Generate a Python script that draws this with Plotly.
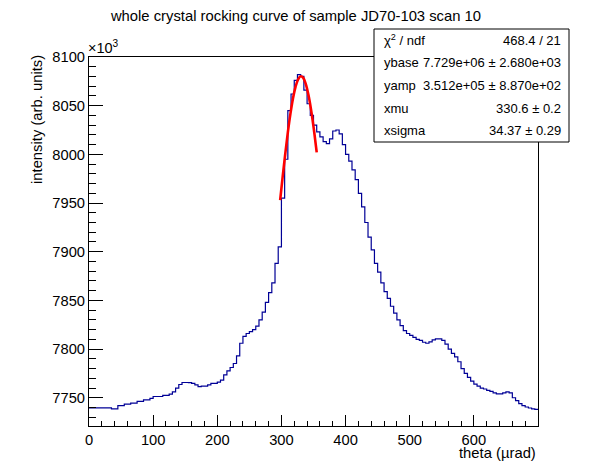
import plotly.graph_objects as go

# histogram: 5 urad bins from 0 to 700, intensity in units of 10^3
bin_width = 5
bin_edges = [i * bin_width for i in range(141)]
intensity = [
    7739.7, 7739.7, 7739.7, 7739.7, 7739.7, 7739.7, 7739.7, 7738.6, 7738.6, 7742.0,
    7742.0, 7743.4, 7743.4, 7744.5, 7744.5, 7746.2, 7746.2, 7747.9, 7747.9, 7749.3,
    7751.3, 7751.3, 7751.3, 7752.4, 7752.4, 7753.7, 7756.0, 7760.0, 7763.6, 7765.7,
    7765.7, 7765.5, 7764.7, 7763.2, 7761.5, 7761.9, 7761.9, 7763.2, 7764.7, 7764.7,
    7766.0, 7768.1, 7773.5, 7777.6, 7781.1, 7785.2, 7793.0, 7806.0, 7813.0, 7816.0,
    7818.0, 7820.0, 7823.5, 7830.0, 7838.0, 7848.0, 7858.0, 7868.0, 7888.0, 7905.0,
    7955.0, 7995.0, 8045.0, 8062.0, 8076.0, 8082.0, 8080.0, 8066.0, 8052.0, 8040.0,
    8030.0, 8023.0, 8018.0, 8013.0, 8011.0, 8016.0, 8024.0, 8025.0, 8021.0, 8010.0,
    8000.0, 7993.0, 7984.0, 7974.0, 7960.0, 7946.0, 7930.0, 7915.0, 7902.0, 7888.0,
    7879.0, 7868.0, 7859.0, 7852.0, 7844.0, 7837.0, 7830.0, 7824.0, 7819.0, 7816.0,
    7814.0, 7812.0, 7810.0, 7809.0, 7807.0, 7806.0, 7807.5, 7809.5, 7810.5, 7810.5,
    7809.0, 7805.0, 7800.0, 7795.5, 7792.0, 7787.0, 7780.0, 7775.0, 7771.0, 7767.0,
    7764.0, 7762.0, 7760.0, 7759.0, 7757.5, 7756.5, 7755.0, 7754.0, 7754.0, 7755.0,
    7756.0, 7755.0, 7750.0, 7747.0, 7744.0, 7742.0, 7740.5, 7739.5, 7738.5, 7738.0,
]

# red fit curve
fit_theta = [298, 302, 306, 310, 314, 318, 322, 326, 330, 334, 338, 342, 346, 350, 354, 355]
fit_intensity = [7953.0, 7977.4, 8000.8, 8022.5, 8041.6, 8057.4, 8069.4, 8077.0, 8080.2,
                 8078.5, 8072.2, 8061.4, 8046.7, 8028.5, 8007.5, 8002.0]

x_ticks = [0, 100, 200, 300, 400, 500, 600]

stat_labels = ["\u03c7<sup>2</sup> / ndf", "ybase", "yamp", "xmu", "xsigma"]
stat_values = ["468.4 / 21", "7.729e+06 \u00b1 2.680e+03", "3.512e+05 \u00b1 8.870e+02",
               "330.6 \u00b1 0.2", "34.37 \u00b1 0.29"]

W, H = 598, 474
L, R, T, B = 89, 538, 57, 426
FONT = "Liberation Sans, Arial, sans-serif"


def px(x):
    return (x - L) / (R - L)


def py(y):
    return (B - y) / (B - T)


fig = go.Figure()

fig.add_trace(go.Scatter(x=bin_edges, y=intensity + [intensity[-1]], mode="lines",
                         line=dict(color="#000096", width=1.2, shape="hv"),
                         hoverinfo="skip"))
fig.add_trace(go.Scatter(x=fit_theta, y=fit_intensity, mode="lines",
                         line=dict(color="#ff0000", width=2.6, shape="spline"),
                         hoverinfo="skip"))

fig.update_layout(
    width=W, height=H,
    margin=dict(l=L, r=W - R, t=T, b=H - B),
    paper_bgcolor="white", plot_bgcolor="white",
    showlegend=False,
    font=dict(family=FONT, size=15, color="black"),
    title=dict(text="whole crystal rocking curve of sample JD70-103 scan 10",
               x=296 / W, xanchor="center", y=1 - 16 / H, yanchor="middle",
               yref="container", font=dict(size=14.8)),
)

fig.update_xaxes(range=[0, 700], showgrid=False, zeroline=False,
                 showline=True, linecolor="black", linewidth=1, mirror=True,
                 ticks="inside", ticklen=11, tickcolor="black", tickvals=x_ticks,
                 minor=dict(ticks="inside", ticklen=5, dtick=20, tickcolor="black"),
                 tickfont=dict(size=14.7))
fig.update_yaxes(range=[7721, 8100], showgrid=False, zeroline=False,
                 showline=True, linecolor="black", linewidth=1, mirror=True,
                 ticks="inside", ticklen=14, tickcolor="black", dtick=50,
                 minor=dict(ticks="inside", ticklen=7, dtick=10, tickcolor="black"),
                 tickfont=dict(size=14.7))

annotations = [
    dict(text="theta (\u00b5rad)", x=1, y=py(453), xanchor="right", yanchor="middle",
         font=dict(size=14.8)),
    dict(text="intensity (arb. units)", x=px(37), y=py(120), textangle=-90,
         xanchor="center", yanchor="middle", font=dict(size=14.8)),
    dict(text="\u00d710<sup>3</sup>", x=px(86), y=py(47), xanchor="left", yanchor="middle",
         font=dict(size=14.5)),
]

# stat box
box_x0, box_x1, box_y0, box_y1 = 374, 569, 29, 142
fig.add_shape(type="rect", xref="paper", yref="paper",
              x0=px(box_x0), x1=px(box_x1), y0=py(box_y1), y1=py(box_y0),
              line=dict(color="black", width=1), fillcolor="white", layer="above")
row_h = (box_y1 - box_y0) / len(stat_labels)
for i, (lab, val) in enumerate(zip(stat_labels, stat_values)):
    yc = box_y0 + row_h * (i + 0.5)
    annotations.append(dict(text=lab, x=px(382), y=py(yc), xanchor="left",
                            yanchor="middle", font=dict(size=13)))
    annotations.append(dict(text=val, x=px(563), y=py(yc), xanchor="right",
                            yanchor="middle", font=dict(size=13)))

for a in annotations:
    a.update(xref="paper", yref="paper", showarrow=False)
fig.update_layout(annotations=annotations)

fig.write_html("out.html", config={"displayModeBar": False},
               post_script="document.body.style.margin='0';")
